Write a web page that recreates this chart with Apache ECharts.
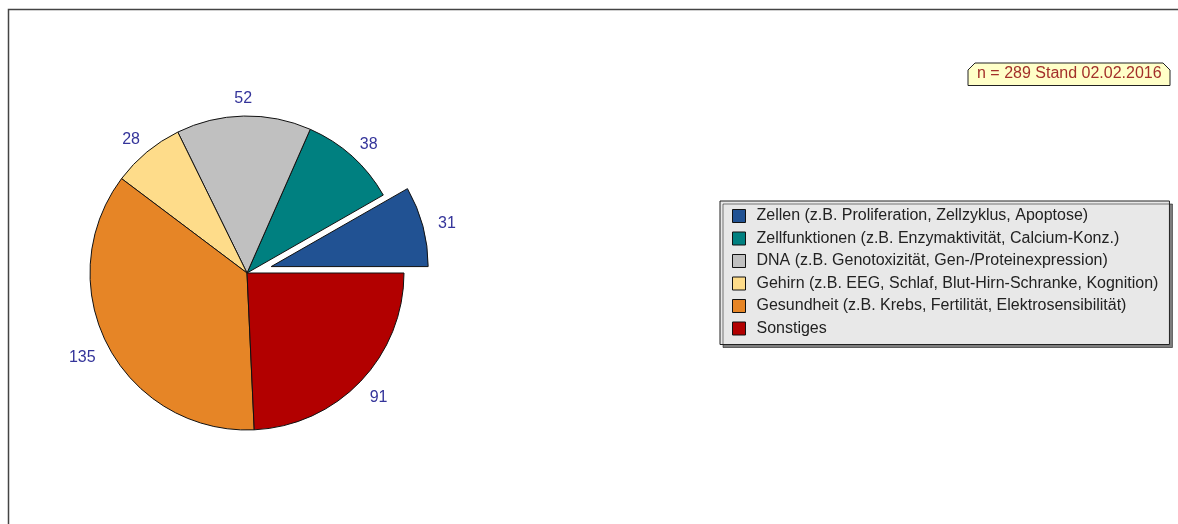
<!DOCTYPE html>
<html><head><meta charset="utf-8">
<script src="https://cdn.jsdelivr.net/npm/echarts@6/dist/echarts.min.js"></script>
<style>html,body{margin:0;padding:0;background:#fff}#c{width:1178px;height:524px}</style>
</head><body><div id="c"></div>
<script>
const categories = [
  'Zellen (z.B. Proliferation, Zellzyklus, Apoptose)',
  'Zellfunktionen (z.B. Enzymaktivität, Calcium-Konz.)',
  'DNA (z.B. Genotoxizität, Gen-/Proteinexpression)',
  'Gehirn (z.B. EEG, Schlaf, Blut-Hirn-Schranke, Kognition)',
  'Gesundheit (z.B. Krebs, Fertilität, Elektrosensibilität)',
  'Sonstiges'
];
const values = [31, 38, 52, 28, 135, 91];
const colors = ['#215293', '#008080', '#c0c0c0', '#fedc8a', '#e68526', '#b20000'];
const noteText = 'n = 289 Stand 02.02.2016';
const explodedIndex = 0;

const FONT = '"Liberation Sans", Arial, sans-serif';
const center = [247, 273];
const LABEL_FONT = 16;
const EXPLODE = 25;

// label offsets: push each label outward by half of its text box along the slice bisector,
// and move the exploded slice's label together with its slice
const total = values.reduce((a, b) => a + b, 0);
let acc = 0;
const labelOffsets = values.map((v, i) => {
  const mid = (acc + v / 2) / total * 2 * Math.PI; // counter-clockwise from 3 o'clock
  acc += v;
  const hw = String(v).length * LABEL_FONT * 0.556 / 2;
  const hh = 3.5;
  const c = Math.cos(mid), s = Math.sin(mid);
  const ex = i === explodedIndex ? EXPLODE : 0;
  return [c * (hw + ex), -s * (hh + ex) + 2.5];
});

const mainData = categories.map((n, i) => ({
  name: n, value: values[i], selected: i === explodedIndex,
  itemStyle: { color: colors[i] }
}));
const labelData = categories.map((n, i) => ({
  name: n, value: values[i],
  label: { offset: labelOffsets[i] }
}));

const chart = echarts.init(document.getElementById('c'), null, { renderer: 'canvas' });
chart.setOption({
  animation: false,
  backgroundColor: '#fff',
  legend: {
    orient: 'vertical',
    left: 720, top: 201,
    data: categories,
    backgroundColor: '#e8e8e8',
    borderColor: '#222', borderWidth: 1,
    shadowColor: 'rgba(0,0,0,0.5)', shadowBlur: 0, shadowOffsetX: 3, shadowOffsetY: 3,
    padding: [7, 11, 8, 12],
    icon: 'rect', itemWidth: 13, itemHeight: 13, itemGap: 6.5,
    itemStyle: { borderColor: '#111', borderWidth: 1 },
    selectedMode: false,
    textStyle: { fontFamily: FONT, fontSize: 16, color: '#222', lineHeight: 16, padding: [0, 0, 0, 6] }
  },
  graphic: [
    { type: 'rect', silent: true, shape: { x: 8.5, y: 9.5, width: 1300, height: 700 },
      style: { fill: null, stroke: '#444', lineWidth: 1.5 } },
    { type: 'polygon', silent: true,
      shape: { points: [[968, 70], [975, 63], [1163, 63], [1170, 70], [1170, 85.5], [968, 85.5]] },
      style: { fill: '#ffffc8', stroke: '#222', lineWidth: 1 } },
    { type: 'text', silent: true, left: 977, top: 66,
      style: { text: noteText, fontFamily: FONT, fontSize: 16, fill: '#a3302a' } }
  ],
  series: [
    {
      type: 'pie', center: center, radius: 157,
      startAngle: 0, clockwise: false,
      selectedMode: 'single', selectedOffset: EXPLODE,
      silent: true,
      itemStyle: { borderColor: '#111', borderWidth: 1 },
      label: { show: false }, labelLine: { show: false },
      emphasis: { disabled: true },
      data: mainData
    },
    {
      type: 'pie', center: center, radius: [160, 180],
      startAngle: 0, clockwise: false,
      selectedMode: false,
      silent: true,
      itemStyle: { color: 'rgba(0,0,0,0)', borderWidth: 0 },
      label: { show: true, position: 'inside', formatter: '{c}', fontFamily: FONT, fontSize: LABEL_FONT, color: '#34349a' },
      labelLine: { show: false },
      emphasis: { disabled: true },
      data: labelData
    }
  ]
});
</script></body></html>
